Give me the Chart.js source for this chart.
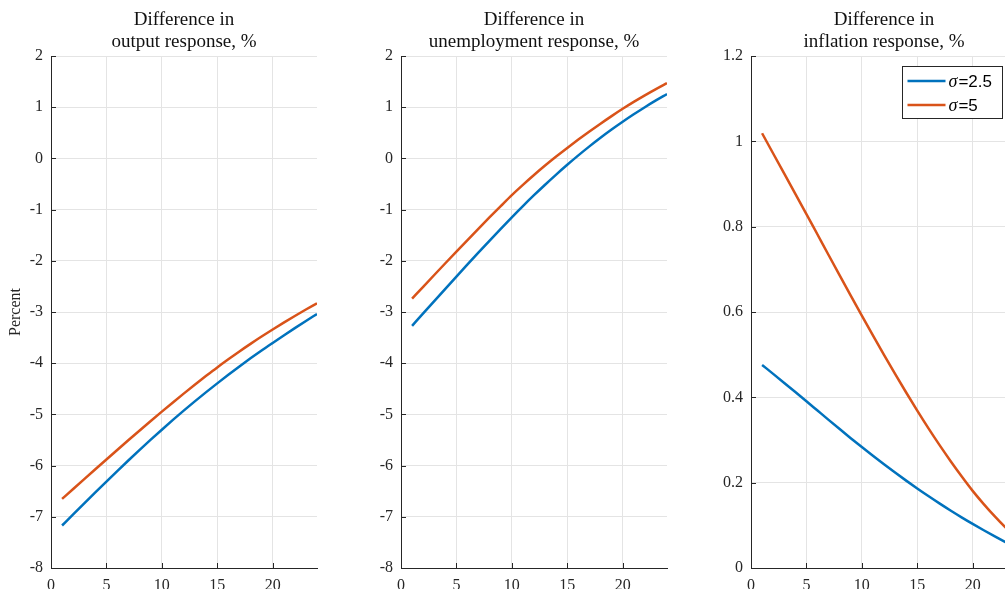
<!DOCTYPE html>
<html>
<head>
<meta charset="utf-8">
<script src="https://cdn.jsdelivr.net/npm/chart.js@4.4.1/dist/chart.umd.min.js"></script>
<style>
  html, body { margin: 0; padding: 0; background: #ffffff; width: 1005px; height: 589px; overflow: hidden; }
  #wrap { position: relative; width: 1005px; height: 589px; overflow: hidden; }
  canvas { position: absolute; top: 0; }
</style>
</head>
<body>
<div id="wrap">
  <canvas id="c0" width="340" height="589" style="left:0px"></canvas>
  <canvas id="c1" width="340" height="589" style="left:350px"></canvas>
  <canvas id="c2" width="340" height="589" style="left:700px"></canvas>
</div>
<script>
// ---------------- data ----------------
const periods = [1,2,3,4,5,6,7,8,9,10,11,12,13,14,15,16,17,18,19,20,21,22,23,24];

const seriesLabels = ['σ=2.5', 'σ=5'];

const outputSigma25 = [-7.170,-6.953,-6.737,-6.523,-6.311,-6.102,-5.896,-5.693,-5.494,-5.299,-5.108,-4.922,-4.741,-4.565,-4.394,-4.226,-4.063,-3.905,-3.752,-3.604,-3.458,-3.315,-3.175,-3.038];
const outputSigma5  = [-6.650,-6.456,-6.263,-6.071,-5.880,-5.690,-5.501,-5.314,-5.129,-4.946,-4.766,-4.589,-4.416,-4.247,-4.082,-3.924,-3.771,-3.623,-3.480,-3.342,-3.208,-3.078,-2.952,-2.830];

const unempSigma25 = [-3.270,-3.028,-2.787,-2.547,-2.308,-2.071,-1.836,-1.604,-1.375,-1.150,-0.931,-0.719,-0.514,-0.316,-0.125,0.059,0.235,0.403,0.563,0.715,0.861,1.000,1.132,1.257];
const unempSigma5  = [-2.740,-2.508,-2.277,-2.048,-1.820,-1.594,-1.370,-1.149,-0.931,-0.716,-0.516,-0.324,-0.140,0.036,0.204,0.367,0.525,0.678,0.826,0.969,1.104,1.232,1.354,1.470];

const inflSigma25 = [0.4760,0.4550,0.4338,0.4124,0.3908,0.3690,0.3472,0.3256,0.3043,0.2834,0.2630,0.2431,0.2237,0.2048,0.1864,0.1686,0.1514,0.1348,0.1188,0.1034,0.0885,0.0741,0.0602,0.0468];
const inflSigma5  = [1.0190,0.9715,0.9241,0.8768,0.8296,0.7816,0.7336,0.6858,0.6383,0.5913,0.5450,0.4995,0.4549,0.4113,0.3688,0.3278,0.2885,0.2509,0.2150,0.1808,0.1498,0.1208,0.0938,0.0688];

const xTickValues = [0, 5, 10, 15, 20];
const xTickLabels = ['0', '5', '10', '15', '20'];
const yTicksLevel = [-8, -7, -6, -5, -4, -3, -2, -1, 0, 1, 2];
const yTickLabelsLevel = ['-8', '-7', '-6', '-5', '-4', '-3', '-2', '-1', '0', '1', '2'];
const yTicksInfl = [0, 0.2, 0.4, 0.6, 0.8, 1.0, 1.2];
const yTickLabelsInfl = ['0', '0.2', '0.4', '0.6', '0.8', '1', '1.2'];

const panelTitles = [
  ['Difference in', 'output response, %'],
  ['Difference in', 'unemployment response, %'],
  ['Difference in', 'inflation response, %']
];
const yAxisLabel = 'Percent';

// ---------------- style ----------------
const BLUE = '#0072BD';
const ORANGE = '#D95319';
const AXIS = '#262626';
const GRID = '#e4e4e4';
const SERIF = '"Liberation Serif", "Times New Roman", serif';
const SANS = '"Liberation Sans", Arial, Helvetica, sans-serif';

const titlePlugin = {
  id: 'panelTitle',
  afterDraw(chart, args, opts) {
    if (!opts || !opts.lines) return;
    const ctx = chart.ctx, a = chart.chartArea;
    const cx = (a.left + a.right) / 2;
    ctx.save();
    ctx.fillStyle = '#111';
    ctx.font = '19px ' + SERIF;
    ctx.textAlign = 'center';
    ctx.textBaseline = 'alphabetic';
    ctx.fillText(opts.lines[0], cx, 25);
    ctx.fillText(opts.lines[1], cx, 47);
    ctx.restore();
  }
};

const inwardTicks = {
  id: 'inwardTicks',
  afterDraw(chart) {
    const ctx = chart.ctx, a = chart.chartArea;
    const xs = chart.scales.x, ys = chart.scales.y;
    ctx.save();
    ctx.strokeStyle = AXIS;
    ctx.lineWidth = 1;
    ctx.beginPath();
    ys.ticks.forEach(t => {
      const p = Math.round(ys.getPixelForValue(t.value)) + 0.5;
      ctx.moveTo(a.left, p); ctx.lineTo(a.left + 5, p);
    });
    xs.ticks.forEach(t => {
      const p = Math.round(xs.getPixelForValue(t.value)) + 0.5;
      ctx.moveTo(p, a.bottom); ctx.lineTo(p, a.bottom - 5);
    });
    ctx.stroke();
    ctx.restore();
  }
};

const legendPlugin = {
  id: 'boxLegend',
  afterDraw(chart, args, opts) {
    if (!opts || !opts.show) return;
    const ctx = chart.ctx, a = chart.chartArea;
    const bx = Math.round(a.left + 151) + 0.5, by = 66.5, bw = 100, bh = 52;
    ctx.save();
    ctx.fillStyle = '#fff';
    ctx.fillRect(bx, by, bw, bh);
    ctx.strokeStyle = AXIS;
    ctx.lineWidth = 1;
    ctx.strokeRect(bx, by, bw, bh);
    chart.data.datasets.forEach((ds, i) => {
      const y = 81 + i * 24;
      ctx.strokeStyle = ds.borderColor;
      ctx.lineWidth = 2.5;
      ctx.beginPath();
      ctx.moveTo(bx + 5, y); ctx.lineTo(bx + 43, y);
      ctx.stroke();
      ctx.fillStyle = '#000';
      ctx.textBaseline = 'middle';
      ctx.textAlign = 'left';
      const lbl = ds.label;
      const sigma = lbl.charAt(0), rest = lbl.slice(1);
      ctx.font = 'italic 18px ' + SERIF;
      ctx.fillText(sigma, bx + 46, y + 1);
      const w = ctx.measureText(sigma).width;
      ctx.font = '17px ' + SANS;
      ctx.fillText(rest, bx + 46 + w + 1, y + 1);
    });
    ctx.restore();
  }
};

function makeChart(id, idx, s25, s5, yTicks, yLabels, yMin, yMax, showYTitle, showLegend) {
  const ctx = document.getElementById(id).getContext('2d');
  return new Chart(ctx, {
    type: 'line',
    data: {
      datasets: [
        { label: seriesLabels[0], data: periods.map((p, i) => ({ x: p, y: s25[i] })),
          borderColor: BLUE, backgroundColor: BLUE, borderWidth: 2.5, pointRadius: 0,
          cubicInterpolationMode: 'monotone', fill: false },
        { label: seriesLabels[1], data: periods.map((p, i) => ({ x: p, y: s5[i] })),
          borderColor: ORANGE, backgroundColor: ORANGE, borderWidth: 2.5, pointRadius: 0,
          cubicInterpolationMode: 'monotone', fill: false }
      ]
    },
    options: {
      responsive: false,
      animation: false,
      devicePixelRatio: 1,
      layout: { padding: { left: 0, right: 23, top: 56, bottom: 0 } },
      plugins: {
        legend: { display: false },
        tooltip: { enabled: false },
        title: { display: false },
        panelTitle: { lines: panelTitles[idx] },
        boxLegend: { show: showLegend }
      },
      scales: {
        x: {
          type: 'linear', min: 0, max: 24,
          afterBuildTicks: s => { s.ticks = xTickValues.map(v => ({ value: v })); },
          afterFit: s => { s.height = 21; },
          ticks: {
            autoSkip: false, maxRotation: 0, padding: 8, color: AXIS,
            font: { family: SERIF, size: 16 },
            callback: (v) => { const k = xTickValues.indexOf(v); return k >= 0 ? xTickLabels[k] : ''; }
          },
          grid: { color: GRID, drawTicks: false, lineWidth: 1 },
          border: { display: true, color: AXIS, width: 1 }
        },
        y: {
          type: 'linear', min: yMin, max: yMax,
          afterBuildTicks: s => { s.ticks = yTicks.map(v => ({ value: v })); },
          afterFit: s => { s.width = 51; },
          ticks: {
            autoSkip: false, padding: 8, color: AXIS,
            font: { family: SERIF, size: 16 },
            callback: (v) => { const k = yTicks.findIndex(t => Math.abs(t - v) < 1e-9); return k >= 0 ? yLabels[k] : ''; }
          },
          grid: { color: GRID, drawTicks: false, lineWidth: 1 },
          border: { display: true, color: AXIS, width: 1 },
          title: {
            display: showYTitle, text: yAxisLabel, color: AXIS,
            font: { family: SERIF, size: 16 }, padding: { top: 6, bottom: 0 }
          }
        }
      }
    },
    plugins: [titlePlugin, inwardTicks, legendPlugin]
  });
}

makeChart('c0', 0, outputSigma25, outputSigma5, yTicksLevel, yTickLabelsLevel, -8, 2, true, false);
makeChart('c1', 1, unempSigma25, unempSigma5, yTicksLevel, yTickLabelsLevel, -8, 2, false, false);
makeChart('c2', 2, inflSigma25, inflSigma5, yTicksInfl, yTickLabelsInfl, 0, 1.2, false, true);
</script>
</body>
</html>
